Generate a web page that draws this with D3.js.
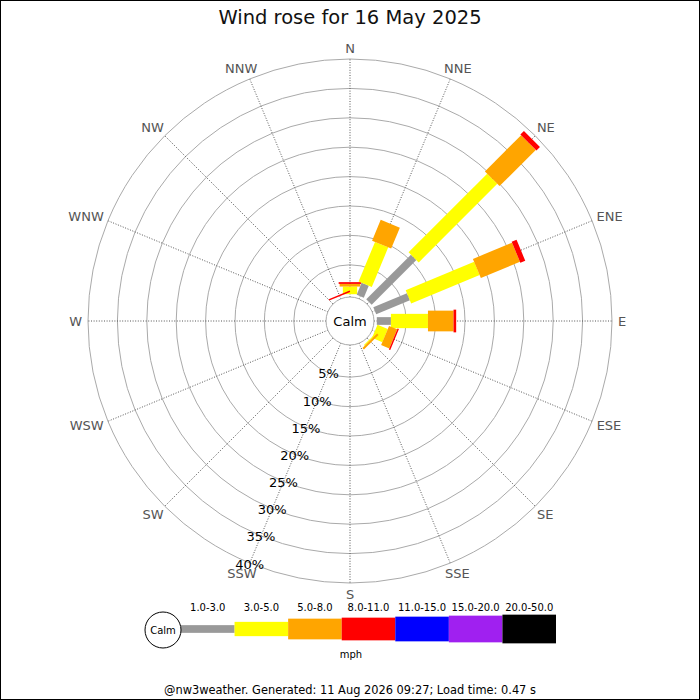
<!DOCTYPE html>
<html><head><meta charset="utf-8">
<script src="https://cdn.jsdelivr.net/npm/d3@7/dist/d3.min.js"></script>
<style>body{margin:0;background:#fff} svg{display:block;font-family:"DejaVu Sans",sans-serif}</style>
</head><body><svg id="c" width="700" height="700"></svg>
<script>
// ---------- data ----------
const titleText = "Wind rose for 16 May 2025";
const footerText = "@nw3weather. Generated: 11 Aug 2026 09:27; Load time: 0.47 s";
const unitLabel = "mph";
const calmLabel = "Calm";
const directions = ["N","NNE","NE","ENE","E","ESE","SE","SSE","S","SSW","SW","WSW","W","WNW","NW","NNW"];
const speedBands = ["1.0-3.0","3.0-5.0","5.0-8.0","8.0-11.0","11.0-15.0","15.0-20.0","20.0-50.0"];
// percentage of time per direction for each speed band
const band1to3   = [0,   2.2, 10.75, 6.2, 2.4, 0,   0,    0,0,0,0,0,0,0,0,0];
const band3to5   = [1.3, 7.3, 18.9, 12.6, 6.3, 1.9, 0.2,  0,0,0,0,0,0,0,0,0];
const band5to8   = [0.45,3.85, 8.7,  7.2, 4.35,1.5, 0.35, 0,0,0,0,0,0,0,0,0];
const band8to11  = [0.3, 0,    0.85, 0.9, 0.45,0.25,0,    0,0,0,0,0,0,0,0,0.25];
const band11to15 = [0,0,0,0,0,0,0,0,0,0,0,0,0,0,0,0];
const band15to20 = [0,0,0,0,0,0,0,0,0,0,0,0,0,0,0,0];
const band20to50 = [0,0,0,0,0,0,0,0,0,0,0,0,0,0,0,0];
const ringTicks = [5,10,15,20,25,30,35,40];

// ---------- styles ----------
const bandSeries = [band1to3, band3to5, band5to8, band8to11, band11to15, band15to20, band20to50];
const bandColors = ["#999999","#ffff00","#ffa500","#ff0000","#0000ff","#a020f0","#000000"];
const bandWidths = [7.7, 14.3, 20.7, 22.7, 24.7, 26.7, 28.7];

const svg = d3.select("#c");
const W = 700, H = 700;
const cx = 350, cy = 321, R = 262, calmR = 24, r0 = 26.8;

svg.append("rect").attr("x",0.5).attr("y",0.5).attr("width",W-1).attr("height",H-1)
  .attr("fill","#fff").attr("stroke","#000");

svg.append("text").attr("x",350).attr("y",17).attr("text-anchor","middle")
  .attr("dominant-baseline","central").attr("font-size",19.5).attr("fill","#111").text(titleText);

const rScale = d3.scaleLinear().domain([0, d3.max(ringTicks)]).range([r0, R]);
const angle = d3.scaleLinear().domain([0, directions.length]).range([0, 360]);

const g = svg.append("g").attr("transform",`translate(${cx},${cy})`);

// rings
g.selectAll("circle.ring").data(ringTicks).join("circle").attr("class","ring")
  .attr("r", d => rScale(d)).attr("fill","none").attr("stroke","#aaa").attr("stroke-width",1);

// spokes
g.selectAll("line.spoke").data(directions).join("line").attr("class","spoke")
  .attr("x1", (d,i) => calmR*Math.sin(angle(i)*Math.PI/180))
  .attr("y1", (d,i) => -calmR*Math.cos(angle(i)*Math.PI/180))
  .attr("x2", (d,i) => R*Math.sin(angle(i)*Math.PI/180))
  .attr("y2", (d,i) => -R*Math.cos(angle(i)*Math.PI/180))
  .attr("stroke","#555").attr("stroke-width",1).attr("stroke-dasharray","1,1.6");

// direction labels
directions.forEach((d,i) => {
  const a = angle(i)*Math.PI/180, ux = Math.sin(a), uy = -Math.cos(a);
  const t = g.append("text").attr("font-size",13).attr("fill","#555")
    .attr("text-anchor","middle").attr("dominant-baseline","central").text(d);
  const hw = t.node().getComputedTextLength()/2, hh = 5;
  const rr = R + 6;
  t.attr("x", rr*ux + ux*hw).attr("y", rr*uy + uy*hh);
});

// calm circle
g.append("circle").attr("r",calmR).attr("fill","#fff").attr("stroke","#aaa");
g.append("text").attr("text-anchor","middle").attr("dominant-baseline","central")
  .attr("font-size",13).attr("fill","#000").text(calmLabel);

// bars
directions.forEach((d,i) => {
  let cum = 0;
  const dg = g.append("g").attr("transform",`rotate(${angle(i)})`);
  bandSeries.forEach((s,b) => {
    const v = s[i];
    if (v > 0) {
      const rs = rScale(cum), re = rScale(cum + v);
      dg.append("rect").attr("x",-bandWidths[b]/2).attr("y",-re)
        .attr("width",bandWidths[b]).attr("height",re-rs).attr("fill",bandColors[b]);
    }
    cum += v;
  });
});

// ring labels along SSW
const lblA = angle(directions.indexOf("SSW"))*Math.PI/180;
g.selectAll("text.rl").data(ringTicks).join("text").attr("class","rl")
  .attr("x", d => rScale(d)*Math.sin(lblA)).attr("y", d => -rScale(d)*Math.cos(lblA)+1)
  .attr("text-anchor","middle").attr("dominant-baseline","central")
  .attr("font-size",13).attr("fill","#000").text(d => d + "%");

// legend
const lx = d3.scaleBand().domain(speedBands).range([181, 556]);
const ly = 629;
const lg = svg.append("g");
lg.selectAll("rect").data(speedBands).join("rect")
  .attr("x", d => lx(d)).attr("width", lx.bandwidth())
  .attr("y", (d,i) => ly - bandWidths[i]/2).attr("height", (d,i) => bandWidths[i])
  .attr("fill", (d,i) => bandColors[i]);
lg.selectAll("text.ll").data(speedBands).join("text").attr("class","ll")
  .attr("x", d => lx(d) + lx.bandwidth()/2).attr("y", 607)
  .attr("text-anchor","middle").attr("dominant-baseline","central")
  .attr("font-size",10).attr("fill","#000").text(d => d);
lg.append("circle").attr("cx",163).attr("cy",ly+1).attr("r",18).attr("fill","#fff").attr("stroke","#000");
lg.append("text").attr("x",163).attr("y",ly+1).attr("text-anchor","middle").attr("dominant-baseline","central")
  .attr("font-size",10).attr("fill","#000").text(calmLabel);
lg.append("text").attr("x",351).attr("y",654).attr("text-anchor","middle").attr("dominant-baseline","central")
  .attr("font-size",10).attr("fill","#000").text(unitLabel);

svg.append("text").attr("x",350).attr("y",690).attr("text-anchor","middle").attr("dominant-baseline","central")
  .attr("font-size",11.4).attr("fill","#000").text(footerText);
</script></body></html>
